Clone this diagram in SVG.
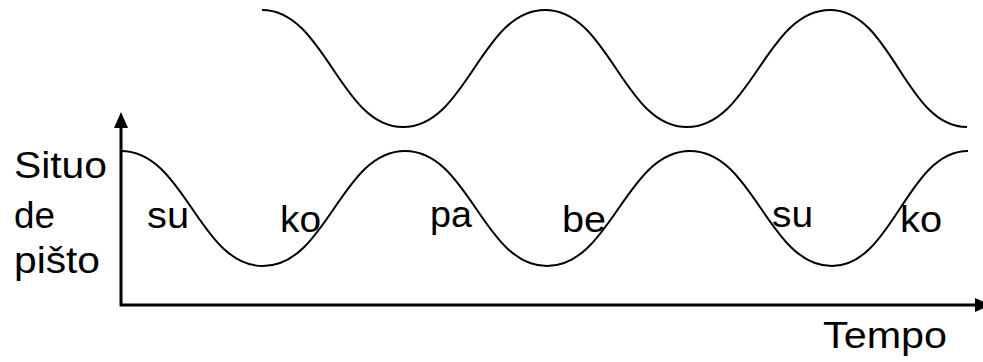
<svg xmlns="http://www.w3.org/2000/svg" width="983" height="362" viewBox="0 0 983 362">
<style>
.t{font-family:"Liberation Sans",Arial,sans-serif;font-size:37px;fill:#000}
.c{fill:none;stroke:#000;stroke-width:2}
.a{fill:none;stroke:#000;stroke-width:3}
</style>
<rect width="983" height="362" fill="#fff"/>
<g id="axes">
<path class="a" d="M121,127 V305 H976"/>
<polygon points="121,112 114,128 128,128"/>
<polygon points="991,305 975,298 975,312"/>
</g>
<g id="curves">
<path id="lower" class="c" d="M121,151 C185,151 199,266 263,266 C327,266 341,151 405,151 C469,151 483,266 547,266 C611,266 626,151 690,151 C754,151 768,266 832,266 C893,266 907,151 968,151"/>
<path id="upper" class="c" d="M262,10 C325,10 340,127 403,127 C467,127 481,10 545,10 C609,10 623,127 687,127 C751,127 766,10 830,10 C892,10 905,127 967,127"/>
</g>
<g id="labels">
<text class="t" x="14" y="178" textLength="93" lengthAdjust="spacingAndGlyphs">Situo</text>
<text class="t" x="14" y="228" textLength="41" lengthAdjust="spacingAndGlyphs">de</text>
<text class="t" x="14" y="273" textLength="86" lengthAdjust="spacingAndGlyphs">pišto</text>
<text class="t" x="823" y="348" textLength="124" lengthAdjust="spacingAndGlyphs">Tempo</text>
<text class="t" x="147" y="228" textLength="42" lengthAdjust="spacingAndGlyphs">su</text>
<text class="t" x="280" y="232" textLength="41" lengthAdjust="spacingAndGlyphs">ko</text>
<text class="t" x="430" y="227" textLength="42" lengthAdjust="spacingAndGlyphs">pa</text>
<text class="t" x="562" y="232" textLength="44" lengthAdjust="spacingAndGlyphs">be</text>
<text class="t" x="772" y="227" textLength="41" lengthAdjust="spacingAndGlyphs">su</text>
<text class="t" x="900" y="232" textLength="42" lengthAdjust="spacingAndGlyphs">ko</text>
</g>
</svg>
